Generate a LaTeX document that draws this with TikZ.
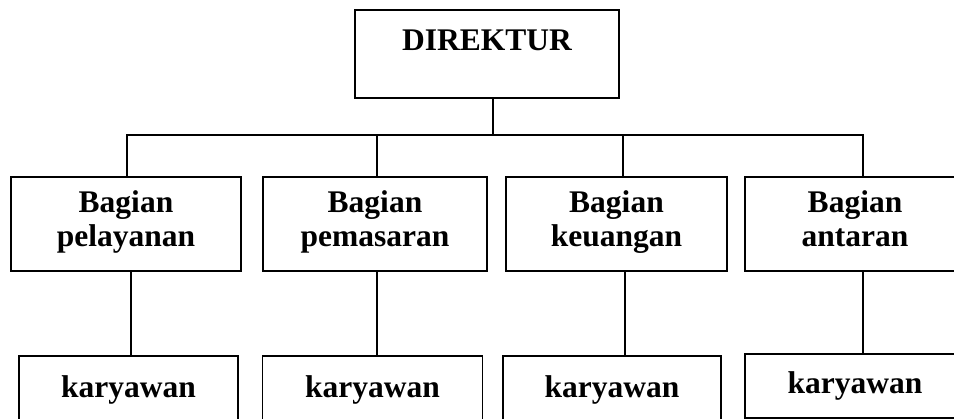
\documentclass[tikz,border=0pt]{standalone}
\usepackage{fontspec}
\setmainfont{Liberation Serif}

\begin{document}
\begin{tikzpicture}[x=1pt,y=-1pt,line width=1.8pt,
    box/.style={draw,inner sep=0pt,font=\fontsize{31.5}{34}\selectfont\bfseries},
    bagian/.style={box,align=center,minimum height=94pt,
        execute at begin node=\rule{0pt}{30pt},execute at end node=\strut},
    staff/.style={box,anchor=north,text height=42pt,text depth=45pt}]
    \useasboundingbox (0,0) rectangle (954,419);
    \node[box,anchor=north,minimum width=264pt,text height=41pt,text depth=47pt] (dir) at (487,9) {DIREKTUR};
    \node[bagian,minimum width=230pt] (b1) at (126,224) {Bagian\\pelayanan};
    \node[bagian,minimum width=224pt] (b2) at (375,224) {Bagian\\pemasaran};
    \node[bagian,minimum width=221pt] (b3) at (616.5,224) {Bagian\\keuangan};
    \node[bagian,minimum width=220pt] (b4) at (855,224) {Bagian\\antaran};
    \node[staff,minimum width=219pt] (k1) at (128.5,355) {karyawan};
    \node[staff,minimum width=220pt] (k2) at (372.5,355) {karyawan};
    \node[staff,minimum width=218pt] (k3) at (612,355) {karyawan};
    \node[staff,minimum width=220pt,text height=40pt,text depth=24pt] (k4) at (855,353) {karyawan};
    \coordinate (bar) at (493,135);
    \draw (bar |- dir.south) -- (bar);
    \foreach \n/\x in {1/127,2/377,3/623,4/863}
        \coordinate (j\n) at (\x,135);
    \draw (j1 |- b1.north) -- (j1) -- (j4) -- (j4 |- b4.north);
    \draw (j2) -- (j2 |- b2.north);
    \draw (j3) -- (j3 |- b3.north);
    \foreach \n/\x in {1/131,2/377,3/625,4/863}{
        \coordinate (s\n) at (\x,0);
        \draw (s\n |- b\n.south) -- (s\n |- k\n.north);
    }
\end{tikzpicture}
\end{document}
